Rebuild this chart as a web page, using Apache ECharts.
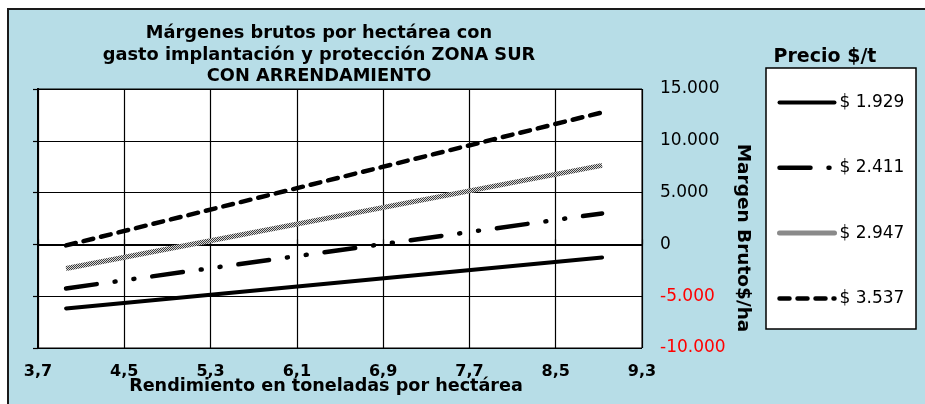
<!DOCTYPE html>
<html><head><meta charset="utf-8">
<script src="https://cdn.jsdelivr.net/npm/echarts@6/dist/echarts.min.js"></script>
<style>html,body{margin:0;padding:0;background:#fff;}#c{width:925px;height:404px;}</style>
</head><body><div id="c"></div>
<script>
// ---- data ----
const yields = [3.96, 8.93];              // t/ha (first and last point of each line)
const seriesNames = ['$ 1.929', '$ 2.411', '$ 2.947', '$ 3.537'];
const m1929 = [-6180, -1260];
const m2411 = [-4250, 2990];
const m2947 = [-2320, 7630];
const m3537 = [-100, 12740];
const xTickLabels = ['3,7', '4,5', '5,3', '6,1', '6,9', '7,7', '8,5', '9,3'];
const yTickLabels = ['-10.000', '-5.000', '0', '5.000', '10.000', '15.000'];
const X0 = 3.7;        // x axis origin (t/ha)

const FONT = 'DejaVu Sans';
const toX = x => Math.round((x - X0) * 100) / 10;   // tenths of t/ha from origin
const pts = vals => yields.map((x, i) => [toX(x), vals[i]]);

// gray stippled pattern
const pc = document.createElement('canvas');
pc.width = 2; pc.height = 2;
const g = pc.getContext('2d');
g.fillStyle = '#d8d8d8'; g.fillRect(0, 0, 2, 2);
g.fillStyle = '#3c3c3c'; g.fillRect(0, 0, 1, 1); g.fillRect(1, 1, 1, 1);
const grayPattern = { image: pc, repeat: 'repeat' };

const chart = echarts.init(document.getElementById('c'), null, { renderer: 'canvas' });
const xBase = { type: 'value', min: 0, max: 56, interval: 8 };
const yBase = { type: 'value', min: -10000, max: 15000, interval: 5000 };

chart.setOption({
  animation: false,
  backgroundColor: 'transparent',
  textStyle: { fontFamily: FONT },
  title: {
    text: 'Márgenes brutos por hectárea con\ngasto implantación y protección ZONA SUR\nCON ARRENDAMIENTO',
    left: 319, top: 23, textAlign: 'center', padding: 0,
    textStyle: { fontFamily: FONT, fontSize: 17.8, fontWeight: 'bold', color: '#000', lineHeight: 21.5 }
  },
  grid: { left: 38, top: 89, right: 283, bottom: 56, show: true, backgroundColor: '#fff', borderColor: '#000', borderWidth: 1 },
  xAxis: [
    Object.assign({}, xBase, {
      position: 'bottom',
      axisLine: { show: true, lineStyle: { color: '#000', width: 2 } },
      axisTick: { show: false },
      splitLine: { show: true, lineStyle: { color: '#000', width: 1.2 } },
      axisLabel: {
        margin: 16, fontFamily: FONT, fontSize: 16, fontWeight: 'bold', color: '#000',
        formatter: v => xTickLabels[Math.round(v / 8)]
      }
    }),
    Object.assign({}, xBase, {
      position: 'top',
      axisLine: { show: true, lineStyle: { color: '#000', width: 2 } },
      axisTick: { show: true, length: 5, lineStyle: { color: '#000', width: 1.2 } },
      splitLine: { show: false },
      axisLabel: { show: false }
    })
  ],
  yAxis: [
    Object.assign({}, yBase, {
      position: 'left',
      axisLine: { show: true, lineStyle: { color: '#000', width: 2 } },
      axisTick: { show: true, length: 5, lineStyle: { color: '#000', width: 1.2 } },
      splitLine: { show: true, lineStyle: { color: '#000', width: 1.2 } },
      axisLabel: { show: false }
    }),
    Object.assign({}, yBase, {
      position: 'right',
      axisLine: { show: true, lineStyle: { color: '#000', width: 2 } },
      axisTick: { show: false },
      splitLine: { show: false },
      axisLabel: {
        margin: 18, fontFamily: FONT, fontSize: 17, align: 'left', padding: [6, 0, 0, 0],
        color: v => (v < 0 ? '#ff0000' : '#000'),
        formatter: v => yTickLabels[Math.round((v + 10000) / 5000)]
      }
    })
  ],
  legend: {
    orient: 'vertical', left: 777, top: 94, padding: 0,
    itemWidth: 55, itemHeight: 14, itemGap: 48.3, selectedMode: false,
    itemStyle: { opacity: 0 },
    lineStyle: { width: 'inherit', type: 'inherit', color: 'inherit', cap: 'round' },
    textStyle: { fontFamily: FONT, fontSize: 17, color: '#000' },
    data: seriesNames
  },
  graphic: [
    { type: 'rect', z: -10, shape: { x: 8, y: 9, width: 940, height: 420 },
      style: { fill: '#b7dde7', stroke: '#1a1a1a', lineWidth: 2 } },
    { type: 'rect', z: 0, shape: { x: 766, y: 68, width: 150, height: 261 },
      style: { fill: '#fff', stroke: '#000', lineWidth: 1.5 } },
    { type: 'text', z: 5, x: 825, y: 57,
      style: { text: 'Precio $/t', font: 'bold 19px "DejaVu Sans"', fill: '#000', textAlign: 'center', textVerticalAlign: 'middle' } },
    { type: 'text', z: 5, x: 326, y: 386,
      style: { text: 'Rendimiento en toneladas por hectárea', font: 'bold 17.6px "DejaVu Sans"', fill: '#000', textAlign: 'center', textVerticalAlign: 'middle' } },
    { type: 'text', z: 5, x: 743, y: 238, rotation: -Math.PI / 2,
      style: { text: 'Margen Bruto$/ha', font: 'bold 18.5px "DejaVu Sans"', fill: '#000', textAlign: 'center', textVerticalAlign: 'middle' } }
  ],
  series: [
    { name: seriesNames[0], type: 'line', data: pts(m1929), symbol: 'none', z: 3,
      lineStyle: { color: '#000', width: 4, cap: 'round' }, itemStyle: { color: '#000' } },
    { name: seriesNames[1], type: 'line', data: pts(m2411), symbol: 'none', z: 3,
      lineStyle: { color: '#000', width: 4.5, cap: 'round', type: [31, 18, 1, 18, 1, 18] }, itemStyle: { color: '#000' } },
    { name: seriesNames[2], type: 'line', data: pts(m2947), symbol: 'none', z: 3,
      lineStyle: { color: grayPattern, width: 5 }, itemStyle: { color: '#999' } },
    { name: seriesNames[3], type: 'line', data: pts(m3537), symbol: 'none', z: 3,
      lineStyle: { color: '#000', width: 4.5, cap: 'round', type: [10, 8] }, itemStyle: { color: '#000' } }
  ]
});
</script></body></html>
